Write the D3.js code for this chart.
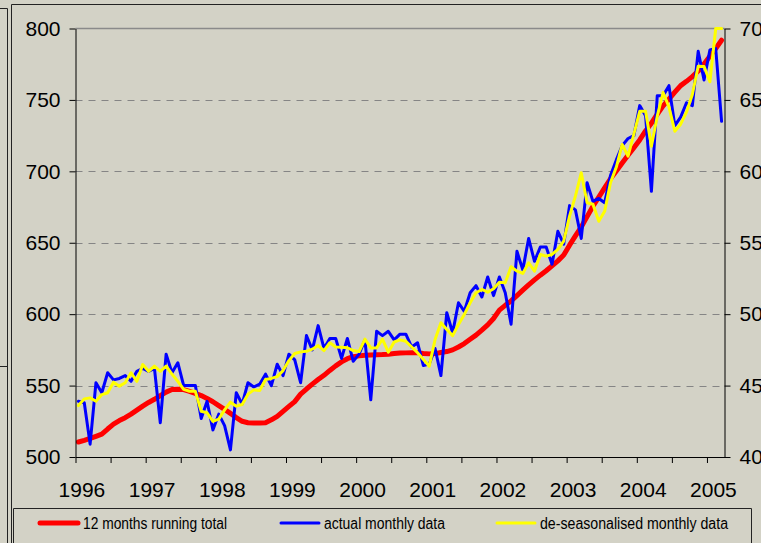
<!DOCTYPE html>
<html>
<head>
<meta charset="utf-8">
<script src="https://cdn.jsdelivr.net/npm/d3@7"></script>
<style>
  html, body { margin: 0; padding: 0; background: #d3d2c6; overflow: hidden; }
  svg { display: block; }
</style>
</head>
<body>
<svg id="chart" width="761" height="543"></svg>
<script>
// monthly values, Jan 1996 .. Mar 2005
const runningTotal = [
  510.5, 511.7, 513, 514.5, 516, 519.6, 523, 525.5, 527.5, 530,
  532.8, 535.6, 538.2, 540.4, 543, 545.4, 547.2, 547.5, 547.2, 546,
  544.5, 543, 541, 538.7, 536, 533.3, 530.5, 527.6, 525, 524,
  523.8, 523.8, 524, 526, 528.5, 532, 535.4, 538.8, 544, 547.6,
  551, 554.2, 557.2, 560.6, 563.8, 566.6, 568.8, 570.2, 570.8, 571.2,
  571.4, 571.6, 571.7, 572, 572.4, 572.8, 572.9, 573, 573, 572.5,
  572.2, 572.4, 573.2, 573.8, 575, 577, 579.4, 582.4, 585.3, 588.8,
  592.5, 597, 602.8, 606.2, 609.3, 613, 616.8, 620.5, 624, 627.3,
  630.4, 633.8, 637.3, 641.4, 648.3, 654.8, 661, 668.3, 675.6, 682,
  688.4, 694.8, 700.3, 705.8, 711.2, 716.5, 722, 728.3, 733.7, 740,
  745.8, 750.6, 755.4, 760, 763, 766.3, 770.2, 775.2, 780.6, 786,
  791.8
];

const actualMonthly = [
  539, 538, 509, 552, 545, 559, 554, 555, 557, 553,
  560, 562, 560, 562, 524, 572, 559, 566, 550, 550,
  550, 527, 539, 519, 530, 522, 505, 545, 537, 552,
  549, 551, 558, 550, 565, 557, 572, 568, 552, 585,
  575, 592, 576, 583, 583, 569, 583, 567, 572, 582,
  540, 588, 585, 588, 582, 586, 586, 577, 580, 564,
  565, 576, 557, 601, 587, 608, 602, 615, 620, 612,
  626, 613, 626, 615, 593, 644, 631, 653, 637, 647,
  647, 635, 658, 649, 676, 673, 653, 692, 679, 681,
  678, 697, 708, 718, 723, 725, 746, 739, 686, 753,
  753, 760, 732, 738, 748, 746, 784, 764, 785, 786,
  735
];

const deseasonalised = [
  536, 540.7, 541.4, 539, 543.7, 545, 552.4, 549.6, 552, 559,
  553, 564.7, 560, 563.6, 560, 563.6, 558, 553, 547.3, 546,
  546, 532, 531, 525, 526.5, 533, 538.4, 535.6, 536.8, 544,
  547, 546.5, 554.3, 555, 556.3, 560.5, 567.5, 572.5, 573.6, 574,
  575.5, 578, 574.5, 580, 577, 576.8, 576.5, 574.5, 573.8, 582.5,
  576.4, 576.4, 582.5, 573.4, 580.5, 582, 581, 577, 573, 568.3,
  563.6, 582.3, 594, 589.3, 585, 592.8, 599.8, 608, 615, 617.3,
  615.4, 617.8, 622.4, 622, 633.2, 630.1, 628.5, 636, 630.1, 641.8,
  640.6, 641.8, 645.3, 651.1, 668.6, 682.6, 699, 678, 677, 665,
  672, 692, 703, 718.8, 710.6, 726, 742, 742, 717.6, 738.6,
  755.2, 745, 728.1, 733, 741.4, 753.8, 773.6, 773.4, 762.7, 800, 800
];

const years = ["1996", "1997", "1998", "1999", "2000", "2001", "2002", "2003", "2004", "2005"];
const leftTicks = [500, 550, 600, 650, 700, 750, 800];
const rightTicks = [40, 45, 50, 55, 60, 65, 70];

const seriesInfo = [
  { name: "12 months running total", values: runningTotal, color: "#ff0000", width: 5 },
  { name: "actual monthly data", values: actualMonthly, color: "#0000ff", width: 3 },
  { name: "de-seasonalised monthly data", values: deseasonalised, color: "#ffff00", width: 3 }
];

(() => {
  const plot = { left: 75.5, right: 724.5, top: 28.5, bottom: 457 };
  const fontMain = "'Liberation Sans', Arial, sans-serif";

  const svg = d3.select("#chart");

  const x = d3.scaleLinear().domain([0, runningTotal.length]).range([plot.left, plot.right]);
  const y = d3.scaleLinear().domain([500, 800]).range([plot.bottom, plot.top]);
  const y2 = d3.scaleLinear().domain([40, 70]).range([plot.bottom, plot.top]);

  // frame bits
  const frame = svg.append("g").attr("stroke", "#222").attr("stroke-width", 1).attr("fill", "none");
  frame.append("path").attr("d", "M0,8.5H7.5V543");
  frame.append("path").attr("d", "M0,366.5H7.5");
  frame.append("path").attr("d", "M11.5,543V4.5H761");

  // grid
  svg.append("g")
    .selectAll("line")
    .data(leftTicks.filter(d => d > 500 && d < 800))
    .join("line")
    .attr("x1", plot.left).attr("x2", plot.right)
    .attr("y1", d => Math.round(y(d)) + 0.5).attr("y2", d => Math.round(y(d)) + 0.5)
    .attr("stroke", "#858585")
    .attr("stroke-dasharray", "7,6");

  svg.append("line")
    .attr("x1", plot.left).attr("x2", plot.right)
    .attr("y1", plot.top).attr("y2", plot.top)
    .attr("stroke", "#8a8a8a")
    .attr("stroke-width", 1.5);

  // series
  svg.append("clipPath").attr("id", "plotclip")
    .append("rect")
    .attr("x", plot.left).attr("y", plot.top - 2)
    .attr("width", plot.right - plot.left).attr("height", plot.bottom - plot.top + 2);

  const line = d3.line()
    .x((d, i) => x(i + 0.5))
    .y(d => y(d));

  const lines = svg.append("g").attr("clip-path", "url(#plotclip)");
  seriesInfo.forEach(s => {
    lines.append("path")
      .datum(s.values)
      .attr("fill", "none")
      .attr("stroke", s.color)
      .attr("stroke-width", s.width)
      .attr("stroke-linejoin", "round")
      .attr("stroke-linecap", "round")
      .attr("d", line);
  });

  // left axis
  const leftAxis = svg.append("g")
    .attr("transform", `translate(${plot.left},0)`)
    .call(d3.axisLeft(y).tickValues(leftTicks).tickSize(6).tickSizeOuter(0).tickPadding(9));

  // right axis (labels run off the page edge, as in the original)
  const rightAxis = svg.append("g")
    .attr("transform", `translate(${plot.right},0)`)
    .call(d3.axisRight(y2).tickValues(rightTicks).tickSize(6).tickSizeOuter(0).tickPadding(9));

  // bottom axis: ticks every 6 months, labels under January
  const bottomAxis = svg.append("g")
    .attr("transform", `translate(0,${plot.bottom})`)
    .call(d3.axisBottom(x).tickValues(d3.range(0, runningTotal.length, 6)).tickSize(6).tickSizeOuter(0).tickFormat(""));

  const yearLabels = svg.append("g")
    .attr("transform", `translate(3,${plot.bottom})`)
    .call(d3.axisBottom(x)
      .tickValues(years.map((d, i) => i * 12 + 0.5))
      .tickFormat((d, i) => years[i])
      .tickSize(0)
      .tickPadding(25));
  yearLabels.select(".domain").remove();

  [leftAxis, rightAxis, bottomAxis, yearLabels].forEach(g => {
    g.selectAll("path, line").attr("stroke", "#000");
    g.selectAll("text")
      .attr("fill", "#000")
      .style("font-family", fontMain)
      .style("font-size", "21px");
  });

  // legend
  const legend = svg.append("g");
  legend.append("path")
    .attr("d", "M13.5,543V508.5H751.5V543")
    .attr("fill", "none")
    .attr("stroke", "#222");

  const legendX = [40, 281, 497];
  const legendTextW = [144, 121, 188];
  seriesInfo.forEach((s, i) => {
    const item = legend.append("g").attr("transform", `translate(${legendX[i]},523)`);
    item.append("line")
      .attr("x1", 0).attr("x2", 38)
      .attr("stroke", s.color)
      .attr("stroke-width", s.width)
      .attr("stroke-linecap", "round");
    item.append("text")
      .attr("x", 43)
      .attr("dy", "0.35em")
      .attr("fill", "#000")
      .attr("textLength", legendTextW[i])
      .attr("lengthAdjust", "spacingAndGlyphs")
      .style("font-family", fontMain)
      .style("font-size", "16px")
      .text(s.name);
  });
})();
</script>
</body>
</html>
